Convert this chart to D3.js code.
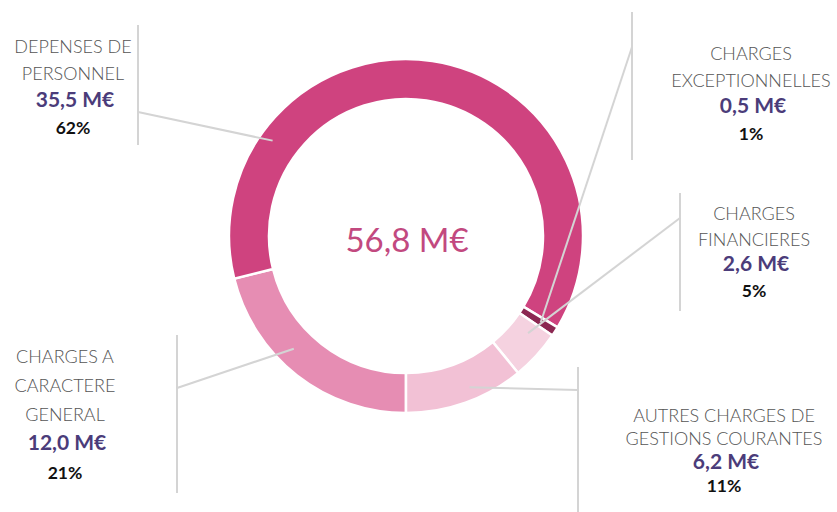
<!DOCTYPE html>
<html>
<head>
<meta charset="utf-8">
<script src="https://cdn.jsdelivr.net/npm/d3@7/dist/d3.min.js"></script>
<style>
  body { margin: 0; background: #fff; }
  text { font-family: Lato, "Open Sans", sans-serif; }
</style>
</head>
<body>
<div class="svg-container"></div>
<script>

// data, clockwise starting from the bottom of the ring
const categories = ['general', 'personnel', 'exceptionnelles', 'financieres', 'autres'];
const labelLines = [
  ['CHARGES A', 'CARACTERE', 'GENERAL'],
  ['DEPENSES DE', 'PERSONNEL'],
  ['CHARGES', 'EXCEPTIONNELLES'],
  ['CHARGES', 'FINANCIERES'],
  ['AUTRES CHARGES DE', 'GESTIONS COURANTES']
];
const values = [12.0, 35.5, 0.5, 2.6, 6.2];          // M€
const percentLabels = ['21%', '62%', '1%', '5%', '11%'];
const colors = ['#e68db3', '#cf437f', '#8c2852', '#f5d2e0', '#f2c1d5'];

// where each label block and its bracket sit on the page
const layout = [
  {x: 65,  y: 363, gap: 29,   bx: 177, by1: 335, by2: 493, join: 388, t: 0.59, r: 159},
  {x: 73,  y: 53,  gap: 27,   bx: 138, by1: 25,  by2: 145, join: 112, t: 0.22, r: 164},
  {x: 751, y: 60,  gap: 26.7, bx: 632, by1: 12,  by2: 160, join: 47,  t: 0.5,  r: 160},
  {x: 754, y: 220, gap: 25.7, bx: 680, by1: 193, by2: 311, join: 218, t: 0.26, r: 156},
  {x: 724, y: 422, gap: 23.3, bx: 578, by1: 367, by2: 512, join: 390, t: 0.42, r: 164}
];

const width = 837;
const height = 512;
const cx = 406, cy = 236;
const outerR = 177, innerR = 137;

const svg = d3.select('.svg-container')
    .append('svg')
    .attr('width', width)
    .attr('height', height);

const g = svg.append('g')
    .attr('transform', `translate(${cx}, ${cy})`);

const pie = d3.pie()
    .sort(null)
    .startAngle(Math.PI)
    .endAngle(3 * Math.PI)
    .value(d => d);

const arcs = pie(values);

const arc = d3.arc()
    .innerRadius(innerR)
    .outerRadius(outerR);

g.selectAll('.slice')
  .data(arcs)
  .enter().append('path')
    .attr('class', 'slice')
    .attr('d', arc)
    .attr('fill', (d, i) => colors[i])
    .attr('stroke', '#fff')
    .attr('stroke-width', 2.5);

// leader lines: from a point inside the slice to the label bracket
arcs.forEach(function(d, i) {
  const L = layout[i];
  const a = d.startAngle + L.t * (d.endAngle - d.startAngle);
  const p = d3.arc().innerRadius(L.r).outerRadius(L.r).centroid({startAngle: a, endAngle: a});

  svg.append('line')
      .attr('x1', L.bx).attr('y1', L.by1)
      .attr('x2', L.bx).attr('y2', L.by2)
      .attr('stroke', '#d4d4d4')
      .attr('stroke-width', 2);

  svg.append('line')
      .attr('x1', L.bx).attr('y1', L.join)
      .attr('x2', cx + p[0]).attr('y2', cy + p[1])
      .attr('stroke', '#d4d4d4')
      .attr('stroke-width', 2);
});

const fmt = v => d3.format('.1f')(v).replace('.', ',') + ' M€';

// label blocks
categories.forEach(function(c, i) {
  const L = layout[i];
  const block = svg.append('g')
      .attr('class', 'label ' + c)
      .attr('text-anchor', 'middle');

  labelLines[i].forEach(function(line, j) {
    block.append('text')
        .attr('x', L.x)
        .attr('y', L.y + j * L.gap)
        .attr('fill', '#555')
        .style('font-size', '18px')
        .style('font-weight', 300)
        .text(line);
  });

  const n = labelLines[i].length;
  block.append('text')
      .attr('x', L.x + 2)
      .attr('y', L.y + n * L.gap)
      .attr('fill', '#4b3c7a')
      .style('font-size', '21px')
      .style('font-weight', 700)
      .text(fmt(values[i]));

  block.append('text')
      .attr('x', L.x)
      .attr('y', L.y + (n + 1) * L.gap)
      .attr('fill', '#111')
      .style('font-size', '17.5px')
      .style('font-weight', 700)
      .text(percentLabels[i]);
});

// total in the middle
g.append('text')
    .attr('text-anchor', 'middle')
    .attr('x', 1)
    .attr('y', 16)
    .attr('fill', '#c2497f')
    .style('font-size', '33px')
    .text(fmt(d3.sum(values)));

</script>
</body>
</html>
